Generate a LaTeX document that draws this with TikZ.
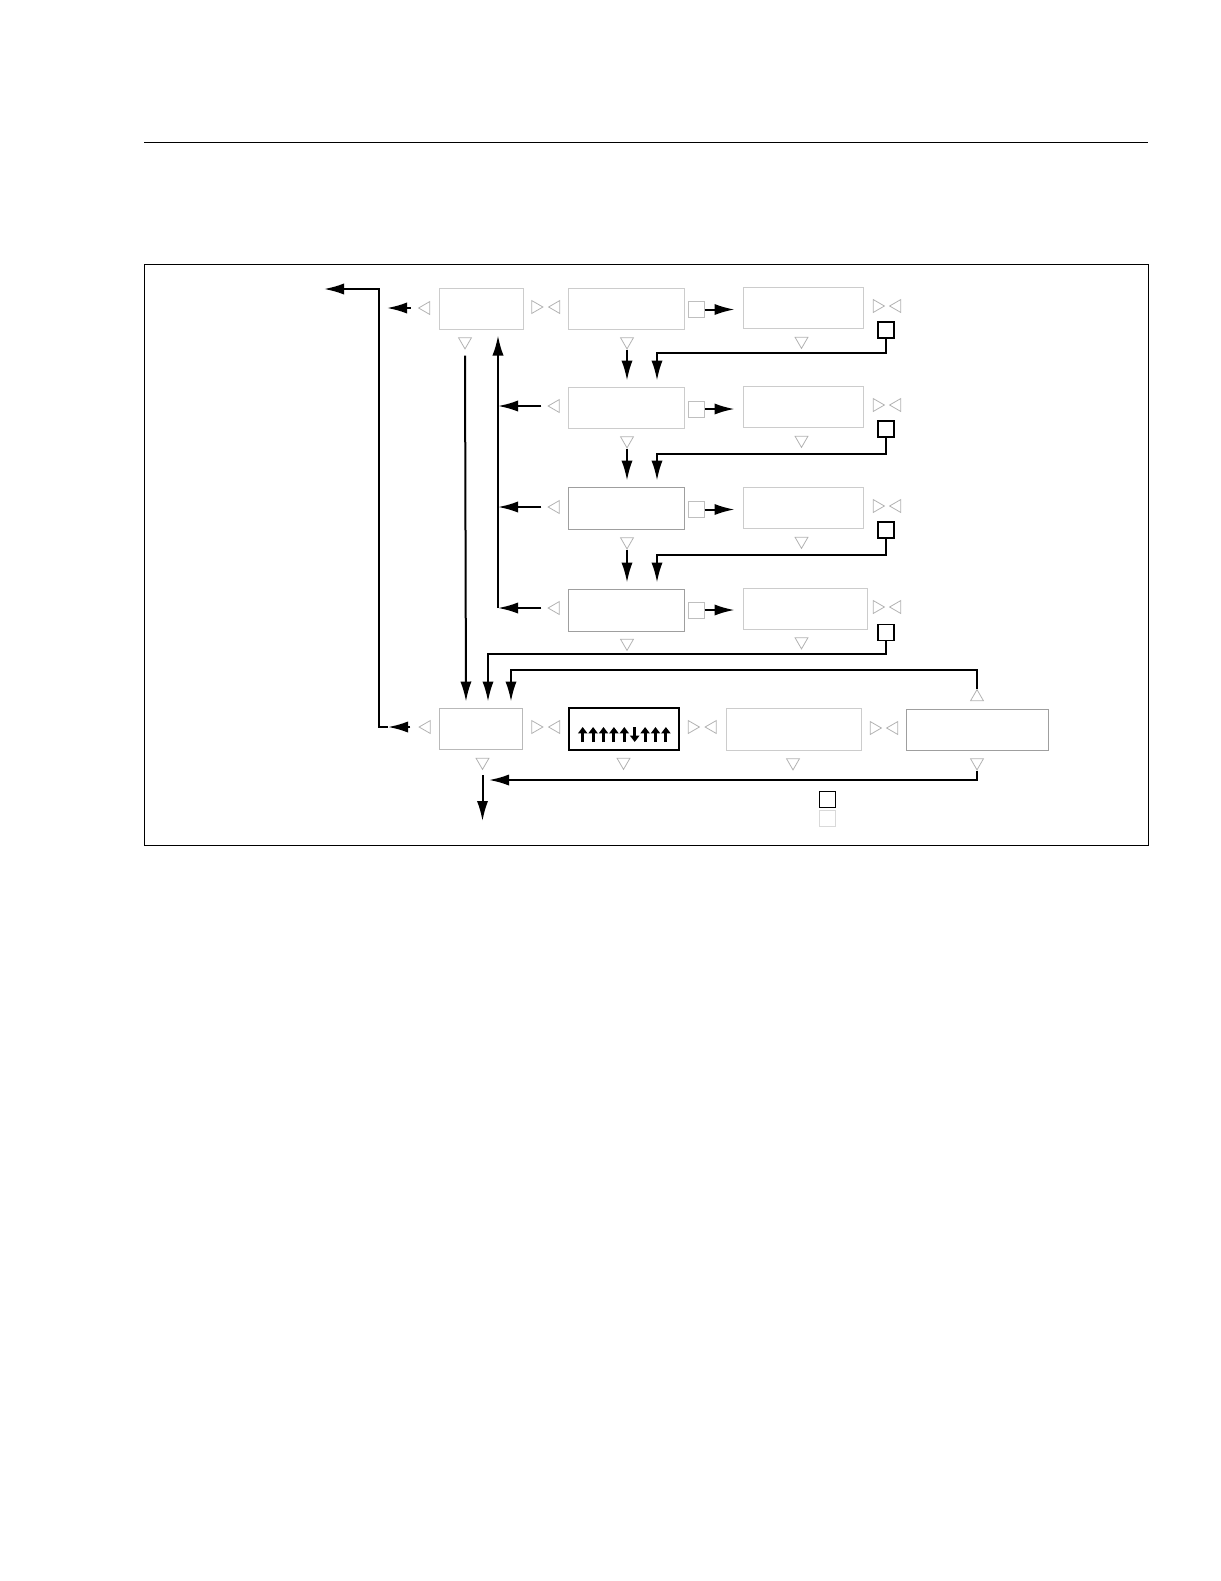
\documentclass[tikz,border=0pt]{standalone}
\usetikzlibrary{arrows.meta,shapes.geometric,positioning}

\tikzset{
  screen/.style={draw=gray!40, line width=0.5pt, inner sep=0pt, minimum height=20.5pt},
  dimscreen/.style={screen, draw=gray!75},
  tri/.style={regular polygon, regular polygon sides=3, draw=gray!60, line width=0.4pt, inner sep=0pt, minimum size=7.4pt},
  trileft/.style={tri, shape border rotate=90},
  triright/.style={tri, shape border rotate=270},
  tridown/.style={tri, shape border rotate=180},
  triup/.style={tri},
  softkey/.style={draw=gray!50, line width=0.5pt, inner sep=0pt, minimum size=8pt},
  hardkey/.style={draw=black, line width=0.8pt, inner sep=0pt, minimum size=8pt},
  arr/.style={-{Latex[length=10pt,width=5.6pt]}, line width=1pt},
  tick/.style={-{Triangle[length=3.2pt,width=4.6pt]}, line width=1.5pt}
}

\begin{document}
\begin{tikzpicture}[x=0.5pt,y=-0.5pt]
	\useasboundingbox (0,0) rectangle (1221,1581);
	
	% Page rule and frame
	\draw[line width=0.5pt] (144,142) -- (1148,142);
	\draw[line width=0.5pt] (144,264.5) rectangle (1148,845);
	
	% Row 1
	\node[screen, minimum width=42pt] (a) at (481,308.5) {};
	\node[screen, minimum width=58pt] (b1) at (626,308.5) {};
	\node[screen, minimum width=60pt] (c1) at (803,307.5) {};
	\node[trileft] (tla) at (426,308) {};
	\node[triright] (tra) at (535.5,307) {};
	\node[trileft] (tlb1) at (556,307) {};
	\node[tridown] (tda) at (465,341.5) {};
	\node[tridown] (tdb1) at (627,341.5) {};
	\node[tridown] (tdc1) at (801.5,341) {};
	\node[triright] (trc1) at (877,306) {};
	\node[trileft] (tlc1) at (897,306) {};
	\node[softkey] (s1) at (696,309.5) {};
	\node[hardkey] (k1) at (886,330) {};
	
	% Row 2
	\node[screen, minimum width=58pt] (b2) at (626,407.5) {};
	\node[screen, minimum width=60pt] (c2) at (803,406.5) {};
	\node[trileft] (tlb2) at (555.5,406) {};
	\node[tridown] (tdb2) at (627,440.5) {};
	\node[tridown] (tdc2) at (801.5,440) {};
	\node[triright] (trc2) at (877,405) {};
	\node[trileft] (tlc2) at (897,405) {};
	\node[softkey] (s2) at (696.5,409) {};
	\node[hardkey] (k2) at (886,429) {};
	
	% Row 3
	\node[dimscreen, minimum width=58pt, minimum height=21pt] (b3) at (626,508) {};
	\node[screen, minimum width=60pt] (c3) at (803,507.5) {};
	\node[trileft] (tlb3) at (555.5,507) {};
	\node[tridown] (tdb3) at (627,541.5) {};
	\node[tridown] (tdc3) at (801.5,541) {};
	\node[triright] (trc3) at (877,506) {};
	\node[trileft] (tlc3) at (897,506) {};
	\node[softkey] (s3) at (696,509.5) {};
	\node[hardkey] (k3) at (886,530) {};
	
	% Row 4
	\node[dimscreen, minimum width=58pt, minimum height=21pt] (b4) at (626,610) {};
	\node[screen, minimum width=62pt] (c4) at (805,608.5) {};
	\node[trileft] (tlb4) at (555.5,608) {};
	\node[tridown] (tdb4) at (627,643) {};
	\node[tridown] (tdc4) at (801.5,641.5) {};
	\node[triright] (trc4) at (877,607) {};
	\node[trileft] (tlc4) at (897,607) {};
	\node[softkey] (s4) at (696,610) {};
	\node[hardkey] (k4) at (886,632.5) {};
	
	% Row 5
	\node[screen, draw=gray!55, minimum width=41.5pt] (d) at (480.5,728.5) {};
	\node[screen, draw=black, line width=0.8pt, minimum width=55pt, minimum height=21pt] (e) at (624,729) {};
	\node[screen, minimum width=67.5pt, minimum height=21pt] (f) at (793.5,729) {};
	\node[dimscreen, minimum width=71pt] (g) at (977,729.5) {};
	\node[trileft] (tld) at (426.5,727) {};
	\node[triright] (trd) at (535.5,727) {};
	\node[trileft] (tle) at (556,727) {};
	\node[triright] (tre) at (692,727) {};
	\node[trileft] (tlf) at (712.5,727) {};
	\node[triright] (trf) at (874,728) {};
	\node[trileft] (tlg) at (894,728) {};
	\node[tridown] (tdd) at (482.5,762) {};
	\node[tridown] (tde) at (623.5,762) {};
	\node[tridown] (tdf) at (793,762.5) {};
	\node[tridown] (tdg) at (977,762.5) {};
	\node[triup] (tug) at (977,697) {};
	
	% Pattern inside the black screen
	\draw[tick] (582.7,742) -- (582.7,727);
	\draw[tick] (593.1,742) -- (593.1,727);
	\draw[tick] (603.5,742) -- (603.5,727);
	\draw[tick] (613.9,742) -- (613.9,727);
	\draw[tick] (624.3,742) -- (624.3,727);
	\draw[tick] (634.7,727) -- (634.7,742);
	\draw[tick] (645.1,742) -- (645.1,727);
	\draw[tick] (655.5,742) -- (655.5,727);
	\draw[tick] (665.9,742) -- (665.9,727);
	
	% Legend
	\node[hardkey] (lk) at (827.5,799.5) {};
	\node[softkey, draw=gray!30] (ls) at (827.5,818) {};
	
	% Free ends
	\coordinate (exita) at (387,308);
	\coordinate (exitd) at (388,727);
	\coordinate (exitup) at (324,289);
	\coordinate (bus) at (498,608);
	\coordinate (back) at (489,780);
	\coordinate (out) at (482.5,821);
	
	% Exits to the left
	\draw[arr] ([xshift=-3.5pt]tla.west) -- (exita);
	\draw[arr] ([xshift=-4pt]tld.west) -- (exitd);
	\draw[arr] (exitd) -- ++(-9,0) |- (exitup);
	
	% Soft keys to the right column
	\draw[arr, shorten >=4pt] (s1.east) -- (s1.east -| c1.west);
	\draw[arr, shorten >=4pt] (s2.east) -- (s2.east -| c2.west);
	\draw[arr, shorten >=4pt] (s3.east) -- (s3.east -| c3.west);
	\draw[arr, shorten >=4pt] (s4.east) -- (s4.east -| c4.west);
	
	% Down the middle column
	\draw[arr, shorten >=3pt] (tdb1.south) -- (tdb1.south |- b2.north);
	\draw[arr, shorten >=3pt] (tdb2.south) -- (tdb2.south |- b3.north);
	\draw[arr, shorten >=3pt] (tdb3.south) -- (tdb3.south |- b4.north);
	
	% Hard keys back to the next row
	\draw[arr, shorten >=3pt] (k1.south) -- ++(0,14) -| ([xshift=15.5pt]b2.north);
	\draw[arr, shorten >=3pt] (k2.south) -- ++(0,16) -| ([xshift=15.5pt]b3.north);
	\draw[arr, shorten >=3pt] (k3.south) -- ++(0,16) -| ([xshift=15.5pt]b4.north);
	\draw[arr, shorten >=3pt] (k4.south) -- ++(0,13) -| ([xshift=3.75pt]d.north);
	
	% Return bus up to the first screen
	\draw[arr, shorten >=3pt] (bus) -- (bus |- a.south);
	\draw[arr] ([xshift=-3pt]tlb2.west) -- (tlb2.west -| bus);
	\draw[arr] ([xshift=-3pt]tlb3.west) -- (tlb3.west -| bus);
	\draw[arr] ([xshift=-3pt]tlb4.west) -- (bus);
	
	% First screen down to the bottom row
	\draw[arr, shorten >=3pt] ([yshift=-3pt]tda.south) -- ([xshift=-7.25pt]d.north);
	
	% Loops from the last screen
	\draw[arr, shorten >=3pt] (tug.north) -- ++(0,-19) -| ([xshift=15.25pt]d.north);
	\draw[arr] (tdg.south) |- (back);
	\draw[arr] ([yshift=-2.5pt]tdd.south) -- (out);
\end{tikzpicture}
\end{document}
